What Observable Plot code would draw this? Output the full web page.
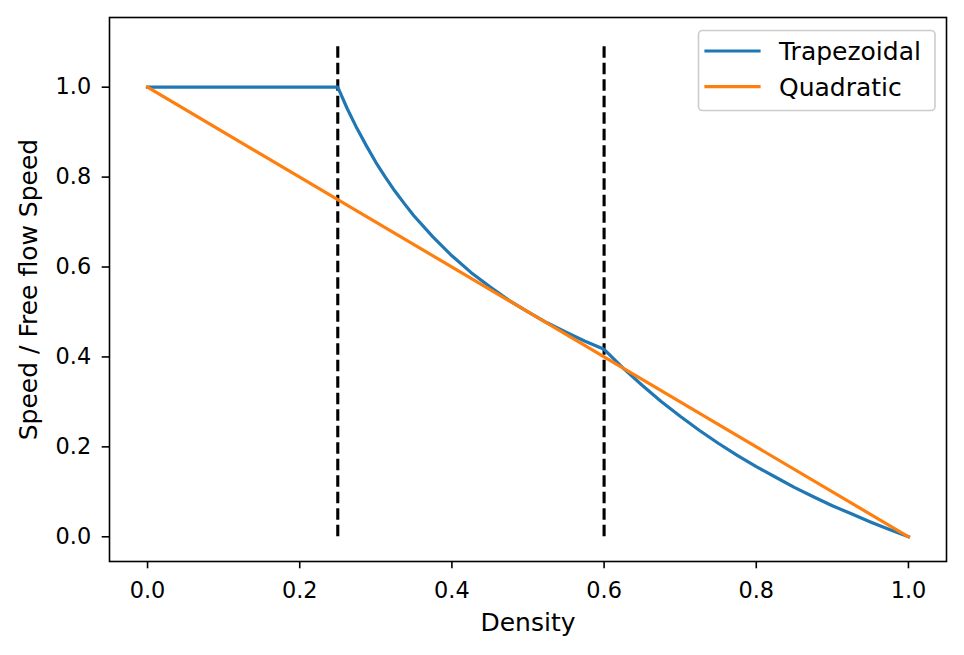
<!DOCTYPE html>
<html>
<head>
<meta charset="utf-8">
<script src="https://cdn.jsdelivr.net/npm/d3@7"></script>
<script src="https://cdn.jsdelivr.net/npm/@observablehq/plot@0.6"></script>
<style>
  html, body { margin: 0; padding: 0; background: #fff; }
  #chart { position: relative; width: 964px; height: 655px; }
</style>
</head>
<body>
<div id="chart"></div>
<script>
// Trapezoidal series (density, speed / free-flow speed)
const trapDensity = [0, 0.05, 0.1, 0.15, 0.2, 0.25, 0.2625, 0.275, 0.2875, 0.3, 0.3125, 0.325, 0.3375, 0.35, 0.375, 0.4, 0.425, 0.45, 0.475, 0.5, 0.525, 0.55, 0.575, 0.6, 0.625, 0.65, 0.675, 0.7, 0.725, 0.75, 0.775, 0.8, 0.825, 0.85, 0.875, 0.9, 0.925, 0.95, 0.975, 1.0];
const trapSpeed   = [1, 1, 1, 1, 1, 1, 0.952, 0.909, 0.870, 0.833, 0.800, 0.769, 0.741, 0.714, 0.667, 0.625, 0.588, 0.556, 0.526, 0.500, 0.476, 0.455, 0.435, 0.417, 0.375, 0.337, 0.301, 0.268, 0.237, 0.208, 0.181, 0.156, 0.133, 0.110, 0.089, 0.069, 0.051, 0.033, 0.016, 0];
// Quadratic series
const quadDensity = [0, 0.25, 0.5, 0.75, 1.0];
const quadSpeed   = [1, 0.75, 0.5, 0.25, 0];
// Regime boundaries (dashed lines)
const boundaryDensity = [0.25, 0.6];
const boundaryTop = 1.1;
// Ticks
const xTicks = [0, 0.2, 0.4, 0.6, 0.8, 1.0];
const yTicks = [0, 0.2, 0.4, 0.6, 0.8, 1.0];
const seriesNames = ["Trapezoidal", "Quadratic"];
const seriesColors = ["#1f77b4", "#ff7f0e"];

const trap = trapDensity.map((d, i) => ({density: d, speed: trapSpeed[i]}));
const quad = quadDensity.map((d, i) => ({density: d, speed: quadSpeed[i]}));

const fmt = d3.format(".1f");
const plot = Plot.plot({
  width: 964,
  height: 655,
  marginLeft: 109,
  marginRight: 18,
  marginTop: 17,
  marginBottom: 94,
  style: {fontFamily: "DejaVu Sans", fontSize: "22.4px", background: "white", color: "black"},
  x: {domain: [-0.05, 1.05]},
  y: {domain: [-0.055, 1.155]},
  marks: [
    Plot.axisX({ticks: xTicks, tickFormat: fmt, tickSize: 7.3, tickPadding: 13, strokeWidth: 1.6, fontSize: 22.4, label: null}),
    Plot.axisY({ticks: yTicks, tickFormat: fmt, tickSize: 7.3, tickPadding: 11, strokeWidth: 1.6, fontSize: 22.4, label: null}),
    Plot.ruleX(boundaryDensity, {x: d => d, y1: 0, y2: boundaryTop, stroke: "black", strokeWidth: 3.1, strokeDasharray: "11.5,5"}),
    Plot.line(trap, {x: "density", y: "speed", stroke: seriesColors[0], strokeWidth: 3.2, strokeLinecap: "square"}),
    Plot.line(quad, {x: "density", y: "speed", stroke: seriesColors[1], strokeWidth: 3.2, strokeLinecap: "square"}),
    Plot.frame({stroke: "black", strokeWidth: 1.6}),
    Plot.text(["Density"], {frameAnchor: "bottom", dy: 61, lineAnchor: "middle", textAnchor: "middle", text: d => d, fontSize: 25}),
    Plot.text(["Speed / Free flow Speed"], {frameAnchor: "left", dx: -81, rotate: -90, lineAnchor: "middle", textAnchor: "middle", text: d => d, fontSize: 25})
  ]
});

const svg = d3.select(plot);
const lg = svg.append("g").attr("font-family", "DejaVu Sans").attr("font-size", 25).attr("text-anchor", "start");
lg.append("rect").attr("x", 698.5).attr("y", 30.5).attr("width", 236.5).attr("height", 80)
  .attr("rx", 4).attr("fill", "white").attr("fill-opacity", 0.8).attr("stroke", "#cccccc").attr("stroke-width", 1.6);
seriesNames.forEach((name, i) => {
  const cy = 51 + i * 35.7;
  lg.append("line").attr("x1", 706).attr("x2", 759).attr("y1", cy).attr("y2", cy)
    .attr("stroke", seriesColors[i]).attr("stroke-width", 3.2).attr("stroke-linecap", "square");
  lg.append("text").attr("x", 779).attr("y", cy + 9).attr("fill", "black").attr("text-anchor", "start").text(name);
});

document.getElementById("chart").appendChild(plot);
</script>
</body>
</html>
